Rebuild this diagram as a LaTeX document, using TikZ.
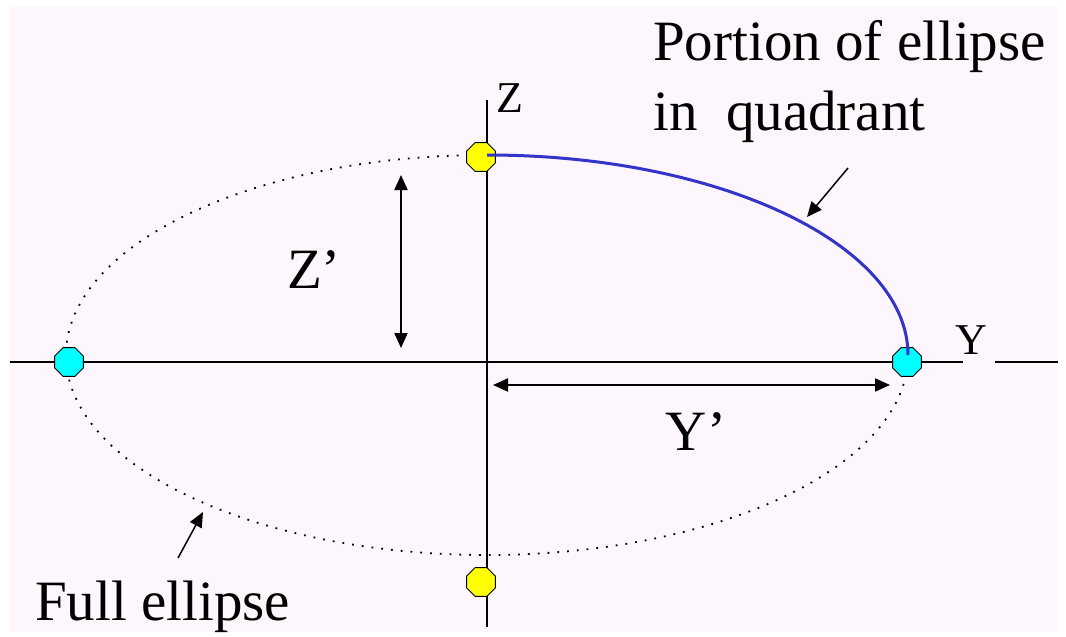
\documentclass[tikz,border=0pt]{standalone}
\usepackage{fontspec}
\setmainfont{Liberation Serif}
\newfontfamily\labelfont{Liberation Serif}
\usepackage{tikz}
\usetikzlibrary{positioning,arrows.meta,shapes.geometric}
\definecolor{paper}{RGB}{253,246,253}
\definecolor{curveblue}{RGB}{52,52,200}
\definecolor{dotyellow}{RGB}{255,255,0}
\definecolor{dotcyan}{RGB}{0,255,255}
\tikzset{
  >={Triangle[length=15pt,width=13pt]},
  axis/.style={line width=2pt,black},
  fullell/.style={line width=1.8pt,dash pattern=on 1.8pt off 8pt},
  quad/.style={line width=3pt,curveblue},
  dimarrow/.style={<->,line width=2pt},
  pointer/.style={->,line width=1.5pt},
  octdot/.style={regular polygon,regular polygon sides=8,draw=black,
    line width=1pt,minimum size=31pt,inner sep=0pt},
  bigtxt/.style={font=\labelfont\fontsize{57}{70}\selectfont,inner sep=0pt},
  axtxt/.style={font=\labelfont\fontsize{44}{50}\selectfont,inner sep=0pt},
}
\begin{document}
\begin{tikzpicture}[x=1pt,y=-1pt]
  \useasboundingbox (0,0) rectangle (1066,637);
  \fill[paper] (10,7) rectangle (1058,632);
  % full ellipse
  \draw[fullell] (487,355) ellipse [x radius=421,y radius=200];
  % axes
  \coordinate (hL) at (10,362);
  \coordinate (hR) at (963,362);
  \coordinate (hR2) at (995,362);
  \coordinate (hEnd) at (1058,362);
  \coordinate (vT) at (487,100);
  \coordinate (vB) at (487,627);
  \draw[axis] (hL) -- (hR);
  \draw[axis] (hR2) -- (hEnd);
  \draw[axis] (vT) -- (vB);
  \node[axtxt] (zlab) at (510,98) {Z};
  \node[axtxt] (ylab) at (971,340) {Y};
  % end points
  \node[octdot,fill=dotyellow] (ztop) at (481,157) {};
  \node[octdot,fill=dotyellow] (zbot) at (481,582) {};
  \node[octdot,fill=dotcyan] (yright) at (907,362) {};
  \node[octdot,fill=dotcyan] (yleft) at (69,362) {};
  % quadrant portion
  \draw[quad] (487,155) arc[start angle=-90,end angle=0,
    x radius=421,y radius=200];
  % dimensions
  \coordinate (zA) at (401,175);
  \coordinate (zB) at (401,348);
  \coordinate (yA) at (493,385);
  \coordinate (yB) at (890,385);
  \draw[dimarrow] (zA) -- (zB);
  \draw[dimarrow] (yA) -- (yB);
  \node[bigtxt] (zdim) at (314,270) {Z’};
  \node[bigtxt] (ydim) at (696,432) {Y’};
  % labels
  \node[bigtxt,anchor=north west,align=left] (portion) at (653,20)
    {Portion of ellipse\\in\ \ quadrant};
  \node[bigtxt,anchor=base west] (full) at (35,620) {Full ellipse};
  \coordinate (pS) at (848,168);
  \coordinate (pE) at (807,217);
  \coordinate (fS) at (178,558);
  \coordinate (fE) at (203,512);
  \draw[pointer] (pS) -- (pE);
  \draw[pointer] (fS) -- (fE);
\end{tikzpicture}
\end{document}
